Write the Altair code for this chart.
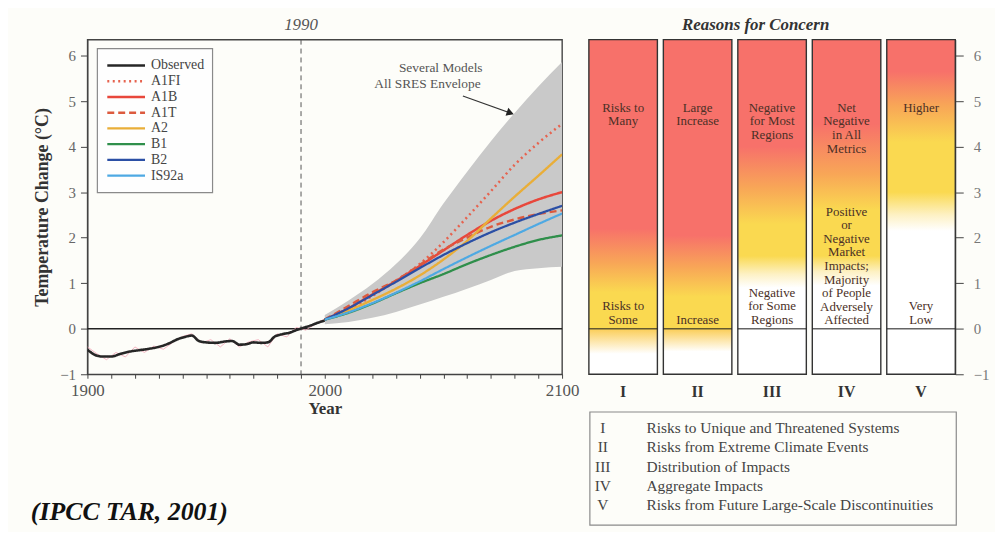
import altair as alt
import pandas as pd

FONT = "Liberation Serif"

# ---------------- left panel data ----------------
SERIES = ["Observed", "A1FI", "A1B", "A1T", "A2", "B1", "B2", "IS92a"]
SERIES_COLORS = ["#262626", "#e6634f", "#e8473b", "#dc5a3e", "#e9ae38", "#2f8f4b", "#2b4fa5", "#4ea9e3"]
SERIES_DASH = [[1, 0], [2, 3.5], [1, 0], [7, 4], [1, 0], [1, 0], [1, 0], [1, 0]]
SERIES_WIDTH = [2.6, 2.2, 1.6, 1.6, 1.6, 1.6, 1.6, 1.6]

OBS_YEARS = [1900, 1903, 1906, 1910, 1914, 1918, 1922, 1926, 1930, 1934, 1938, 1941, 1944, 1947,
             1950, 1954, 1958, 1961, 1964, 1967, 1970, 1973, 1976, 1979, 1982, 1985, 1988, 1991,
             1994, 1997, 2000]
OBS_VALUES = [-0.46, -0.57, -0.61, -0.61, -0.55, -0.50, -0.47, -0.44, -0.40, -0.33, -0.23, -0.18,
              -0.15, -0.27, -0.30, -0.31, -0.28, -0.27, -0.35, -0.34, -0.30, -0.31, -0.30, -0.17,
              -0.12, -0.09, -0.03, 0.02, 0.07, 0.13, 0.18]

RAW_YEARS = [1900, 1904, 1908, 1912, 1916, 1920, 1924, 1928, 1932, 1936, 1940, 1944, 1948, 1952,
             1956, 1960, 1964, 1968, 1972, 1976, 1980, 1984, 1988, 1992, 1996, 2000]
RAW_VALUES = [-0.40, -0.55, -0.68, -0.52, -0.62, -0.40, -0.52, -0.38, -0.45, -0.30, -0.17, -0.11,
              -0.31, -0.24, -0.40, -0.22, -0.40, -0.29, -0.24, -0.40, -0.11, -0.18, 0.03, -0.03,
              0.10, 0.22]

PROJ_YEARS = [2000, 2010, 2020, 2030, 2040, 2050, 2060, 2070, 2080, 2090, 2100]
PROJ = {
    "A1FI": [0.20, 0.42, 0.72, 1.05, 1.42, 1.90, 2.45, 3.02, 3.60, 4.08, 4.50],
    "A1B": [0.20, 0.45, 0.75, 1.05, 1.38, 1.72, 2.06, 2.37, 2.63, 2.84, 3.00],
    "A1T": [0.20, 0.50, 0.80, 1.06, 1.40, 1.74, 2.00, 2.24, 2.40, 2.52, 2.60],
    "A2": [0.20, 0.40, 0.63, 0.88, 1.17, 1.52, 1.93, 2.42, 2.90, 3.36, 3.83],
    "B1": [0.20, 0.35, 0.55, 0.78, 1.00, 1.20, 1.42, 1.62, 1.80, 1.95, 2.05],
    "B2": [0.20, 0.45, 0.74, 1.03, 1.33, 1.62, 1.88, 2.12, 2.33, 2.52, 2.70],
    "IS92a": [0.20, 0.36, 0.56, 0.79, 1.04, 1.31, 1.57, 1.82, 2.06, 2.30, 2.53],
}

ENV_YEARS = [2000, 2010, 2020, 2030, 2040, 2050, 2060, 2070, 2080, 2090, 2100]
ENV_LOW = [0.10, 0.15, 0.24, 0.37, 0.53, 0.70, 0.88, 1.07, 1.27, 1.33, 1.36]
ENV_HIGH = [0.30, 0.62, 0.98, 1.42, 1.98, 2.75, 3.45, 4.12, 4.74, 5.32, 5.86]

ANNOT_TEXT = ["Several Models", "All SRES Envelope"]
ANNOT_YEAR = [2066.5, 2065.7]
ANNOT_VALUE = [5.72, 5.37]
ARROW_YEAR = [2058.2, 2078.2]
ARROW_VALUE = [5.11, 4.74]

CREDIT = "(IPCC TAR, 2001)"

# ---------------- right panel data ----------------
CATS = ["I", "II", "III", "IV", "V"]
# (category, text lines, temperature at the centre of the first line)
TOP_LABELS = [
    ("I", ["Risks to", "Many"], 4.84),
    ("II", ["Large", "Increase"], 4.84),
    ("III", ["Negative", "for Most", "Regions"], 4.84),
    ("IV", ["Net", "Negative", "in All", "Metrics"], 4.84),
    ("V", ["Higher"], 4.84),
]
BOTTOM_LABELS = [
    ("I", ["Risks to", "Some"], 0.48),
    ("II", ["Increase"], 0.19),
    ("III", ["Negative", "for Some", "Regions"], 0.78),
    ("IV", ["Positive", "or", "Negative", "Market", "Impacts;", "Majority", "of People",
            "Adversely", "Affected"], 2.56),
    ("V", ["Very", "Low"], 0.48),
]
WHITE, CREAM, YELLOW, ORANGE, RED = "#ffffff", "#fdf1c4", "#fad950", "#f8a657", "#f7716a"
EMBER_STOPS = {
    "I": [(-1, WHITE), (-0.55, WHITE), (-0.03, "#fbd060"), (0.0, YELLOW), (0.8, YELLOW),
          (1.45, ORANGE), (2.2, RED), (6.35, RED)],
    "II": [(-1, WHITE), (-0.5, WHITE), (-0.03, "#fbd060"), (0.0, YELLOW), (0.7, YELLOW),
           (1.35, ORANGE), (2.05, RED), (6.35, RED)],
    "III": [(-1, WHITE), (0.9, WHITE), (1.2, CREAM), (1.6, YELLOW), (2.3, YELLOW),
            (3.1, ORANGE), (4.0, RED), (6.35, RED)],
    "IV": [(-1, WHITE), (0.95, WHITE), (1.25, CREAM), (1.6, YELLOW), (2.6, YELLOW),
           (3.4, ORANGE), (4.5, RED), (6.35, RED)],
    "V": [(-1, WHITE), (2.15, WHITE), (2.5, CREAM), (3.0, YELLOW), (4.1, YELLOW),
          (4.9, ORANGE), (5.65, RED), (6.35, RED)],
}
KEY_NUMERALS = ["I", "II", "III", "IV", "V"]
KEY_TEXT = ["Risks to Unique and Threatened Systems", "Risks from Extreme Climate Events",
            "Distribution of Impacts", "Aggregate Impacts",
            "Risks from Future Large-Scale Discontinuities"]

Y_MIN, Y_MAX = -1, 6.35
PLOT_H = 337
PX_PER_UNIT = PLOT_H / (Y_MAX - Y_MIN)

# ---------------- frames ----------------
rows = []
for s in SERIES[1:]:
    for yr, v in zip(PROJ_YEARS, PROJ[s]):
        rows.append({"series": s, "year": yr, "value": v})
for yr, v in zip(OBS_YEARS, OBS_VALUES):
    rows.append({"series": "Observed", "year": yr, "value": v})
lines_df = pd.DataFrame(rows)
raw_df = pd.DataFrame({"year": RAW_YEARS, "value": RAW_VALUES})
env_df = pd.DataFrame({"year": ENV_YEARS, "low": ENV_LOW, "high": ENV_HIGH})
annot_df = pd.DataFrame({"year": ANNOT_YEAR, "value": ANNOT_VALUE, "text": ANNOT_TEXT})
arrow_df = pd.DataFrame({"year": ARROW_YEAR, "value": ARROW_VALUE})
legend_df = pd.DataFrame({"series": SERIES, "row": list(range(len(SERIES)))})

X_SCALE = alt.Scale(domain=[1900, 2100], nice=False, zero=False)
Y_SCALE = alt.Scale(domain=[Y_MIN, Y_MAX], nice=False, zero=False)
X_AXIS = alt.Axis(values=list(range(1900, 2101, 10)), format="d",
                  labelExpr="datum.value % 100 == 0 ? datum.label : ''",
                  tickSize=4, tickColor="#444", domainColor="#444", labelFont=FONT,
                  labelFontSize=17, labelColor="#555", labelPadding=4, labelFlush=False,
                  labelOverlap=False, titleFont=FONT, titleFontSize=17, titleFontWeight="bold",
                  titleColor="#333", titlePadding=3, grid=False)
Y_AXIS = alt.Axis(values=[-1, 0, 1, 2, 3, 4, 5, 6], tickSize=7, tickColor="#444",
                  domainColor="#444", labelFont=FONT, labelFontSize=15, labelColor="#666",
                  labelPadding=5, labelFlush=False, titleFont=FONT, titleFontSize=18,
                  titleFontWeight="bold", titleColor="#333", titlePadding=8, grid=False)


def lx(field):
    return alt.X(field, scale=X_SCALE, axis=X_AXIS, title="Year")


def ly(field):
    return alt.Y(field, scale=Y_SCALE, axis=Y_AXIS, title="Temperature Change (°C)")


color_enc = alt.Color("series:N", scale=alt.Scale(domain=SERIES, range=SERIES_COLORS), legend=None)
dash_enc = alt.StrokeDash("series:N", scale=alt.Scale(domain=SERIES, range=SERIES_DASH), legend=None)
width_enc = alt.StrokeWidth("series:N", scale=alt.Scale(domain=SERIES, range=SERIES_WIDTH), legend=None)

envelope = alt.Chart(env_df).mark_area(color="#c9c9c9", clip=True, interpolate="monotone").encode(
    x=lx("year:Q"), y=ly("low:Q"), y2="high:Q")
zero_rule = alt.Chart(pd.DataFrame({"value": [0]})).mark_rule(color="#222", strokeWidth=1.4).encode(
    y=ly("value:Q"))
v1990 = alt.Chart(pd.DataFrame({"year": [1990]})).mark_rule(color="#555", strokeDash=[5, 4],
                                                             strokeWidth=1).encode(x=lx("year:Q"))
raw_line = alt.Chart(raw_df).mark_line(color="#f2a2b4", strokeWidth=1, opacity=0.8, clip=True).encode(
    x=lx("year:Q"), y=ly("value:Q"))
series_lines = alt.Chart(lines_df).mark_line(clip=True, interpolate="monotone").encode(
    x=lx("year:Q"), y=ly("value:Q"), color=color_enc, strokeDash=dash_enc, strokeWidth=width_enc,
    detail="series:N")
annot = alt.Chart(annot_df).mark_text(align="right", baseline="middle", font=FONT, fontSize=13.5,
                                      color="#555").encode(x=lx("year:Q"), y=ly("value:Q"), text="text:N")
arrow_line = alt.Chart(arrow_df).mark_line(color="#333", strokeWidth=1.1).encode(
    x=lx("year:Q"), y=ly("value:Q"))
arrow_head = alt.Chart(arrow_df.iloc[[1]]).mark_point(shape="triangle-right", filled=True, size=70,
                                                      angle=19.5, color="#222", opacity=1).encode(
    x=lx("year:Q"), y=ly("value:Q"))
label1990 = alt.Chart(pd.DataFrame({"year": [1990], "t": ["1990"]})).mark_text(
    font=FONT, fontSize=17, fontStyle="italic", color="#555", baseline="middle").encode(
    x=lx("year:Q"), y=alt.value(-15), text="t:N")

legend_box = alt.Chart(pd.DataFrame({"a": [0]})).mark_rect(fill="#fefefe", stroke="#8a8a8a",
                                                           strokeWidth=1.2).encode(
    x=alt.value(10), x2=alt.value(126), y=alt.value(9), y2=alt.value(154))
legend_lines = alt.Chart(legend_df).transform_calculate(ly="26 + datum.row * 15.86").mark_rule().encode(
    x=alt.value(20), x2=alt.value(58), y=alt.Y("ly:Q", scale=None),
    color=color_enc, strokeDash=dash_enc, strokeWidth=width_enc)
legend_text = alt.Chart(legend_df).transform_calculate(ly="26 + datum.row * 15.86").mark_text(
    align="left", baseline="middle", font=FONT, fontSize=14, color="#444").encode(
    x=alt.value(64), y=alt.Y("ly:Q", scale=None), text="series:N")
credit = alt.Chart(pd.DataFrame({"t": [CREDIT]})).mark_text(
    align="left", baseline="alphabetic", font=FONT, fontSize=26, fontStyle="italic",
    fontWeight="bold", color="#111").encode(x=alt.value(-57), y=alt.value(484), text="t:N")

left = alt.layer(envelope, zero_rule, v1990, raw_line, series_lines, annot, arrow_line, arrow_head,
                 label1990, legend_box, legend_lines, legend_text, credit).properties(
    width=478, height=PLOT_H, view=alt.ViewBackground(stroke="#444", strokeWidth=1.4))

# ---------------- right panel ----------------
BAND = alt.Scale(domain=CATS, paddingInner=0.08, paddingOuter=0)
CAT_AXIS = alt.Axis(orient="bottom", ticks=False, domain=False, labelFont=FONT, labelFontSize=16,
                    labelFontWeight="bold", labelColor="#333", labelPadding=9, labelAngle=0)
R_AXIS = alt.Axis(orient="right", values=[-1, 0, 1, 2, 3, 4, 5, 6], tickSize=8, tickColor="#444",
                  domainColor="#444", labelFont=FONT, labelFontSize=15, labelColor="#777",
                  labelPadding=10, labelFlush=False, grid=False)


def cx():
    return alt.X("cat:N", scale=BAND, axis=CAT_AXIS, title=None)


def ty(field):
    return alt.Y(field, scale=Y_SCALE, axis=R_AXIS, title=None)


bars_df = pd.DataFrame({"cat": CATS, "lo": [Y_MIN] * 5, "hi": [Y_MAX] * 5})
right_layers = []
for c in CATS:
    stops = [{"offset": (t - Y_MIN) / (Y_MAX - Y_MIN), "color": col} for t, col in EMBER_STOPS[c]]
    grad = {"gradient": "linear", "x1": 0, "x2": 0, "y1": 1, "y2": 0, "stops": stops}
    right_layers.append(
        alt.Chart(bars_df[bars_df["cat"] == c]).mark_bar(fill=grad, stroke="#333", strokeWidth=1.4,
                                                         opacity=1).encode(
            x=cx(), y=ty("lo:Q"), y2="hi:Q"))

zero_ticks = alt.Chart(pd.DataFrame({"cat": CATS, "v": [0] * 5})).mark_tick(
    orient="horizontal", size=69, thickness=1.6, color="#222").encode(x=cx(), y=ty("v:Q"))

BAR_FONT = 13
LINE_H = 13.7
lab_rows = []
for cat, lines, t in TOP_LABELS + BOTTOM_LABELS:
    # shift from the centre of the first line to its top (baseline "top")
    lab_rows.append({"cat": cat, "text": "\n".join(lines), "t": t + (BAR_FONT * 0.5) / PX_PER_UNIT})
lab_df = pd.DataFrame(lab_rows)
bar_text = alt.Chart(lab_df).mark_text(font=FONT, fontSize=BAR_FONT, color="#4b3026", baseline="top",
                                       lineBreak="\n", lineHeight=LINE_H).encode(
    x=cx(), y=ty("t:Q"), text="text:N")
rfc_title = alt.Chart(pd.DataFrame({"t": ["Reasons for Concern"]})).mark_text(
    font=FONT, fontSize=17, fontStyle="italic", fontWeight="bold", color="#333",
    baseline="middle").encode(x=alt.value(168), y=alt.value(-15), text="t:N")
key_df = pd.DataFrame({"num": KEY_NUMERALS, "desc": KEY_TEXT, "row": list(range(5))})
key_box = alt.Chart(pd.DataFrame({"a": [0]})).mark_rect(fill="#fdfdf9", stroke="#8a8a8a",
                                                        strokeWidth=1.2).encode(
    x=alt.value(1), x2=alt.value(370), y=alt.value(375), y2=alt.value(489))
key_num = alt.Chart(key_df).transform_calculate(ly="391 + datum.row * 19.5").mark_text(
    font=FONT, fontSize=15.5, color="#444", baseline="middle", align="center").encode(
    x=alt.value(14), y=alt.Y("ly:Q", scale=None), text="num:N")
key_desc = alt.Chart(key_df).transform_calculate(ly="391 + datum.row * 19.5").mark_text(
    font=FONT, fontSize=15.5, color="#444", baseline="middle", align="left").encode(
    x=alt.value(58), y=alt.Y("ly:Q", scale=None), text="desc:N")

right = alt.layer(*right_layers, zero_ticks, bar_text, rfc_title, key_box, key_num, key_desc).properties(
    width=369, height=PLOT_H, view=alt.ViewBackground(stroke="transparent"))

chart = alt.hconcat(left, right, spacing=27, bounds="flush").properties(
    padding={"left": 22, "top": 5, "right": 5, "bottom": 3}, background="#fdfdf9")

chart.save("out.html", embed_options={"renderer": "svg", "actions": False})
